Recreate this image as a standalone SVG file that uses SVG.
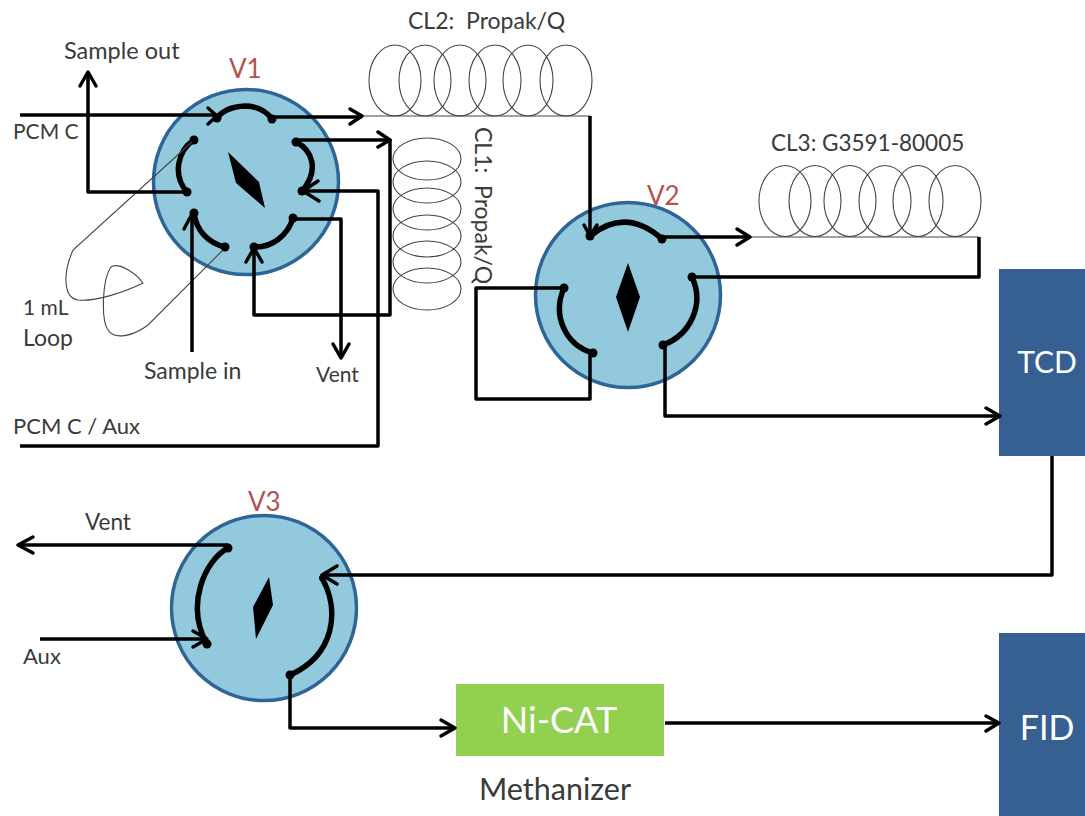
<svg xmlns="http://www.w3.org/2000/svg" width="1085" height="816" viewBox="0 0 1085 816">
<style>
text{font-family:Lato,"Open Sans",sans-serif;fill:#3a3a3a;white-space:pre}
.lb{font-size:21px}
.v{font-size:26px;fill:#b5504f}
.valve{fill:#92c9dd;stroke:#2f6496;stroke-width:3.5}
.d{fill:#000}
.arc{fill:none;stroke:#000;stroke-width:5.500;stroke-linecap:round}
.p{fill:#000}
.c{fill:none;stroke:#000;stroke-width:3.5;stroke-linejoin:round}
.t{fill:none;stroke:#444;stroke-width:1.1}
.h{fill:none;stroke:#000;stroke-width:3.5;stroke-linecap:round;stroke-linejoin:round}
.box{fill:#376092}
.w{fill:#fff;font-size:30px}
</style>
<rect width="1085" height="816" fill="#fff"/>
<g id="CL2" class="t">
<ellipse cx="395" cy="80.500" rx="26" ry="35.500"/><ellipse cx="425" cy="80.500" rx="26" ry="35.500"/><ellipse cx="460" cy="80.500" rx="26" ry="35.500"/><ellipse cx="495" cy="80.500" rx="26" ry="35.500"/><ellipse cx="528" cy="80.500" rx="25" ry="35.500"/><ellipse cx="566" cy="80.500" rx="26" ry="35.500"/>
<text x="408" y="29" class="lb" stroke="none" style="font-size:23px">CL2:  Propak/Q</text>
</g>
<g id="CL1" class="t">
<ellipse cx="427" cy="159" rx="34" ry="21"/><ellipse cx="427" cy="182" rx="34" ry="21"/><ellipse cx="427" cy="209" rx="34" ry="21"/><ellipse cx="427" cy="236" rx="34" ry="21"/><ellipse cx="427" cy="262" rx="34" ry="21"/><ellipse cx="427" cy="289" rx="34" ry="21"/>
<text transform="translate(475,127) rotate(90)" class="lb" stroke="none" style="font-size:23px">CL1:  Propak/Q</text>
</g>
<g id="CL3" class="t">
<ellipse cx="785" cy="201" rx="26" ry="35.500"/><ellipse cx="815" cy="201" rx="26" ry="35.500"/><ellipse cx="850" cy="201" rx="26" ry="35.500"/><ellipse cx="885" cy="201" rx="26" ry="35.500"/><ellipse cx="918" cy="201" rx="25" ry="35.500"/><ellipse cx="955" cy="201" rx="26" ry="35.500"/>
<text x="771" y="151" class="lb" stroke="none" style="font-size:22.500px">CL3: G3591-80005</text>
</g>
<g id="V1">
<circle class="valve" cx="246" cy="182" r="92.500"/>
<polygon class="d" points="228,152 259,182 265,208 236,183"/>
<path class="arc" d="M217,118Q225,107 245,106Q262,106 272,119M296,142C312,150 320,170 302,191M293,218C288,235 272,248 254,247M225,247C208,243 196,230 194,213M187,192C172,175 178,150 194,140"/>
<g class="p"><circle cx="217" cy="118" r="4.500"/><circle cx="272" cy="119" r="4.500"/><circle cx="296" cy="142" r="4.500"/><circle cx="302" cy="191" r="4.500"/><circle cx="293" cy="218" r="4.500"/><circle cx="254" cy="247" r="4.500"/><circle cx="225" cy="247" r="4.500"/><circle cx="194" cy="213" r="4.500"/><circle cx="187" cy="192" r="4.500"/><circle cx="194" cy="140" r="4.500"/></g>
<text x="229" y="78" class="v">V1</text>
</g>
<g id="V2">
<circle class="valve" cx="628" cy="295" r="92.500"/>
<polygon class="d" points="628,263 640,297 628,332 616,297"/>
<path class="arc" d="M590,236Q626,207 662,239M692,277C705,305 690,335 663,345M593,353C565,345 552,315 564,288"/>
<g class="p"><circle cx="590" cy="236" r="4.500"/><circle cx="662" cy="239" r="4.500"/><circle cx="692" cy="277" r="4.500"/><circle cx="663" cy="345" r="4.500"/><circle cx="593" cy="353" r="4.500"/><circle cx="564" cy="288" r="4.500"/></g>
<text x="647" y="205" class="v">V2</text>
</g>
<g id="V3">
<circle class="valve" cx="264" cy="608" r="92.500"/>
<polygon class="d" points="269,577 273,605 256,639 253,607"/>
<path class="arc" d="M228,548C205,560 185,605 207,644M322,578C340,610 335,655 290,675"/>
<g class="p"><circle cx="228" cy="548" r="4.500"/><circle cx="207" cy="644" r="4.500"/><circle cx="322" cy="578" r="3"/><circle cx="290" cy="675" r="4.500"/></g>
<text x="248" y="511" class="v">V3</text>
</g>
<g id="TCD"><rect class="box" x="999" y="269" width="86" height="187"/><text x="1047" y="373" class="w" text-anchor="middle">TCD</text></g>
<g id="FID"><rect class="box" x="999" y="633" width="86" height="183"/><text x="1047" y="740" class="w" text-anchor="middle" style="font-size:34px">FID</text></g>
<g id="NiCAT"><rect x="456" y="684" width="208" height="72" fill="#92d050"/><text x="559" y="733" class="w" text-anchor="middle" style="font-size:36px">Ni-CAT</text></g>
<g id="labels">
<text x="64" y="59" class="lb" style="font-size:23.500px">Sample out</text>
<text x="13" y="139" class="lb">PCM C</text>
<text x="23" y="315" class="lb">1 mL</text>
<text x="23" y="346" class="lb" style="font-size:23px">Loop</text>
<text x="144" y="379" class="lb" style="font-size:23px">Sample in</text>
<text x="316" y="382" class="lb">Vent</text>
<text x="13" y="434" class="lb" style="font-size:22px">PCM C / Aux</text>
<text x="85" y="530" class="lb" style="font-size:22.500px">Vent</text>
<text x="23" y="664" class="lb" style="font-size:22px">Aux</text>
<text x="479" y="800" style="font-size:30.500px">Methanizer</text>
</g>
<g id="connectors">
<path class="t" d="M192,142L73,250C62,275 64,298 78,300C95,302 125,292 143,283C135,272 118,262 111,267C102,280 101,320 108,330C115,341 135,335 148,325L223,250"/>
<path class="t" d="M362,116H590M750,237H979"/>
<path class="c" d="M20,115H217"/><path class="h" d="M208,108L217,116L208,124"/>
<path class="c" d="M272,117H362"/><path class="h" d="M350,109L362,116L350,124"/>
<path class="c" d="M187,192H88V72"/><path class="h" d="M80,86L88,72L96,86"/>
<path class="c" d="M296,140H390V315H254V248"/><path class="h" d="M378,132L390,140L378,147M246,262L254,248L262,262"/>
<path class="c" d="M20,446H378V191H303"/><path class="h" d="M318,181L303,191L319,201"/>
<path class="c" d="M293,219H341V358"/><path class="h" d="M333,344L341,358L349,344"/>
<path class="c" d="M192,352V214"/><path class="h" d="M184,229L192,214L200,229"/>
<path class="c" d="M590,116V236"/><path class="h" d="M584,225L590,236L597,225"/>
<path class="c" d="M662,237H750"/><path class="h" d="M737,229L750,237L737,245"/>
<path class="c" d="M979,237V277H692"/>
<path class="c" d="M564,288H476V399H590V353"/>
<path class="c" d="M665,345V416H1000"/><path class="h" d="M986,408L1000,416L986,424"/>
<path class="c" d="M1052,456V575H322"/><path class="h" d="M337,566L322,575L337,584"/>
<path class="c" d="M228,545H18"/><path class="h" d="M33,537L18,545L33,553"/>
<path class="c" d="M40,639H207"/><path class="h" d="M193,631L207,639L193,647"/>
<path class="c" d="M290,675V728H455"/><path class="h" d="M441,720L455,728L441,736"/>
<path class="c" d="M665,723H999"/><path class="h" d="M986,716L999,723L986,731"/>
</g>
</svg>
